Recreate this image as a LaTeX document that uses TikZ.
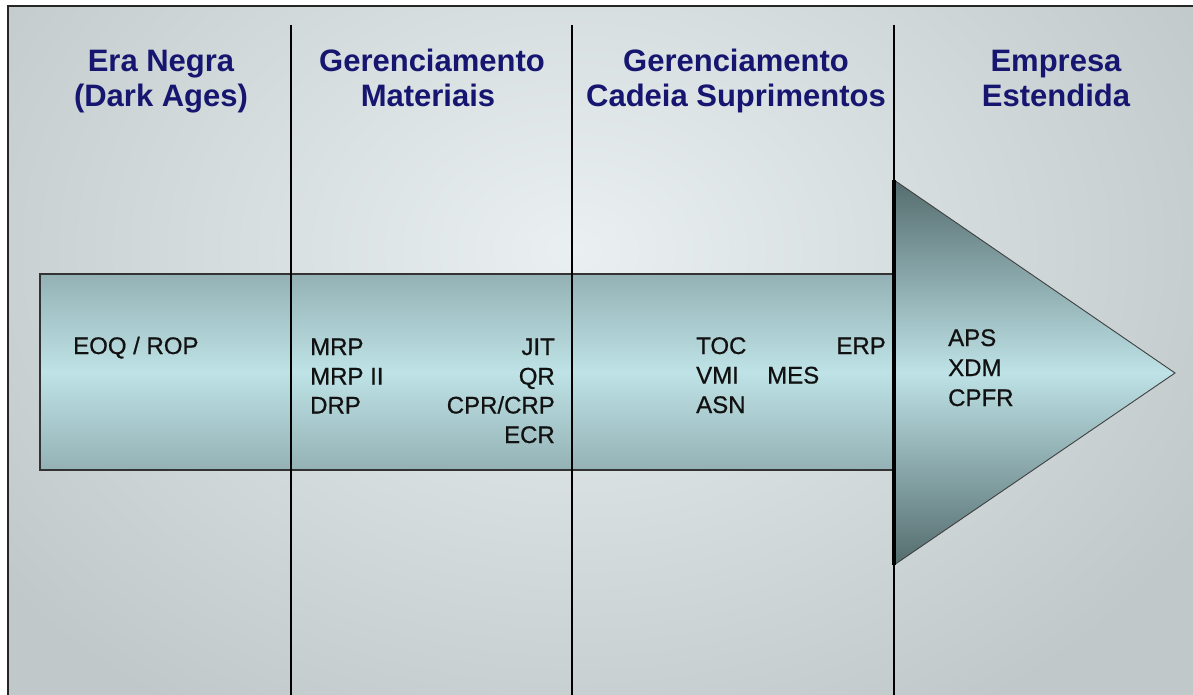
\documentclass[tikz,border=0pt]{standalone}
\usepackage{fontspec}
\setmainfont{Liberation Sans}
\newfontfamily\bodyfont[FakeBold=0.7]{Liberation Sans}
\definecolor{bgin}{RGB}{234,240,242}
\definecolor{bgout}{RGB}{192,200,201}
\definecolor{shedge}{RGB}{148,178,181}
\definecolor{shmid}{RGB}{190,226,230}
\definecolor{hddark}{RGB}{84,108,110}
\definecolor{navy}{RGB}{22,22,112}
\definecolor{bodyc}{RGB}{17,17,17}
\tikzset{
  hdr/.style={anchor=base, inner sep=0pt, text=navy, font=\fontsize{31}{35}\selectfont\bfseries},
  itl/.style={anchor=base west, inner sep=0pt, text=bodyc, font=\bodyfont\fontsize{24}{29}\selectfont},
  itr/.style={anchor=base east, inner sep=0pt, text=bodyc, font=\bodyfont\fontsize{24}{29}\selectfont},
  divider/.style={line width=2.5pt, black},
}
\begin{document}
\begin{tikzpicture}[x=1pt,y=-1pt]
\useasboundingbox (0,0) rectangle (1193,695);
\fill[white] (0,0) rectangle (1193,695);
\begin{scope}
  \clip (8,6) rectangle (1193,695);
  \shade[inner color=bgin, outer color=bgout] (-150,-300) rectangle (1300,800);
\end{scope}
% shaft
\shade[top color=shedge, bottom color=shedge, middle color=shmid] (40,274) rectangle (894,470);
\draw[line width=1.2pt, black!80] (894,274) -- (40,274) -- (40,470) -- (894,470);
% arrowhead
\shade[top color=hddark, bottom color=hddark, middle color=shmid] (894,180) -- (1175,373) -- (894,565) -- cycle;
\draw[line width=0.9pt, black!75] (894,180) -- (1175,373) -- (894,565);
% dividers
\draw[divider] (291,25) -- (291,695);
\draw[divider] (572,25) -- (572,695);
\draw[divider] (894,25) -- (894,695);
\draw[line width=4pt, black] (894,180) -- (894,565);
% frame
\draw[line width=2pt, black!85] (8,695) -- (8,6) -- (1193,6);
% headers
\node[hdr] (h1a) at (161,72) {Era Negra};
\node[hdr] (h1b) at (161,107) {(Dark Ages)};
\node[hdr] (h2a) at (432,72) {Gerenciamento};
\node[hdr] (h2b) at (428,107) {Materiais};
\node[hdr] (h3a) at (736,72) {Gerenciamento};
\node[hdr] (h3b) at (736,107) {Cadeia Suprimentos};
\node[hdr] (h4a) at (1056,72) {Empresa};
\node[hdr] (h4b) at (1056,107) {Estendida};
% body
\node[itl] (eoq) at (73,354) {EOQ / ROP};
\node[itl] (mrp) at (310,355) {MRP};
\node[itl] (mrp2) at (310,384.5) {MRP II};
\node[itl] (drp) at (310,413.5) {DRP};
\node[itr] (jit) at (555,355) {JIT};
\node[itr] (qr) at (555,384.5) {QR};
\node[itr] (cpr) at (555,413.5) {CPR/CRP};
\node[itr] (ecr) at (555,443) {ECR};
\node[itl] (toc) at (696,354) {TOC};
\node[itl] (vmi) at (696,383.5) {VMI};
\node[itl] (asn) at (696,413) {ASN};
\node[itl] (mes) at (767,383.5) {MES};
\node[itr] (erp) at (886,354) {ERP};
\node[itl] (aps) at (948,346) {APS};
\node[itl] (xdm) at (948,376) {XDM};
\node[itl] (cpfr) at (948,406) {CPFR};
\end{tikzpicture}
\end{document}
